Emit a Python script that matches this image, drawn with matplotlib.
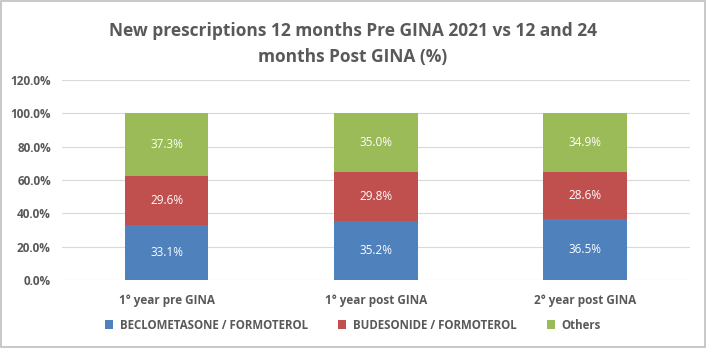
import matplotlib
matplotlib.use("Agg")
import matplotlib.pyplot as plt
from matplotlib.patches import Rectangle
import numpy as np

categories = ["1° year pre GINA", "1° year post GINA", "2° year post GINA"]
series_names = ["BECLOMETASONE / FORMOTEROL", "BUDESONIDE / FORMOTEROL", "Others"]
beclo = [33.1, 35.2, 36.5]
budes = [29.6, 29.8, 28.6]
others = [37.3, 35.0, 34.9]
yticks = [0, 20, 40, 60, 80, 100, 120]
colors = ["#4F81BD", "#C0504D", "#9BBB59"]

plt.rcParams['font.family'] = ['Open Sans', 'DejaVu Sans']
txt = "#595959"

fig = plt.figure(figsize=(7.06, 3.48), dpi=100)
ax = fig.add_axes([0.0878, 0.195, 0.977 - 0.0878, 0.575])

x = np.arange(len(categories))
bottom = np.zeros(len(categories))
for vals, c, name in zip([beclo, budes, others], colors, series_names):
    ax.bar(x, vals, width=0.4, bottom=bottom, color=c, label=name, zorder=3)
    for xi, b, v in zip(x, bottom, vals):
        ax.text(xi, b + v / 2, f"{v:.1f}%", ha="center", va="center",
                color="white", fontsize=8.5, zorder=4)
    bottom += np.array(vals)

ax.set_xlim(-0.5, 2.5)
ax.set_ylim(0, 120)
ax.set_yticks(yticks)
ax.set_yticklabels([f"{v:.1f}%" for v in yticks], fontsize=8.5, fontweight="bold", color=txt)
ax.set_xticks(x)
ax.set_xticklabels(categories, fontsize=8.5, fontweight="bold", color=txt)
ax.tick_params(axis="both", length=0, pad=8)
ax.tick_params(axis="x", pad=10)
ax.grid(axis="y", color="#D9D9D9", linewidth=0.8, zorder=0)
for s in ax.spines.values():
    s.set_visible(False)

fig.text(0.5, 0.873, "New prescriptions 12 months Pre GINA 2021 vs 12 and 24\nmonths Post GINA (%)",
         ha="center", va="center", fontsize=12.5, fontweight="bold", color=txt, linespacing=1.55)

leg = fig.legend(loc="center", bbox_to_anchor=(0.5, 0.066), ncol=3, frameon=False,
                 fontsize=8.3, handlelength=0.7, handleheight=0.7, columnspacing=2.6,
                 handletextpad=0.6)
for t in leg.get_texts():
    t.set_color(txt)
    t.set_fontweight("bold")

fig.patches.append(Rectangle((0.001, 0.002), 0.997, 0.995, transform=fig.transFigure,
                             fill=False, edgecolor="#BFBFBF", linewidth=1.2))

fig.savefig("out.png", dpi=100, facecolor="white")
